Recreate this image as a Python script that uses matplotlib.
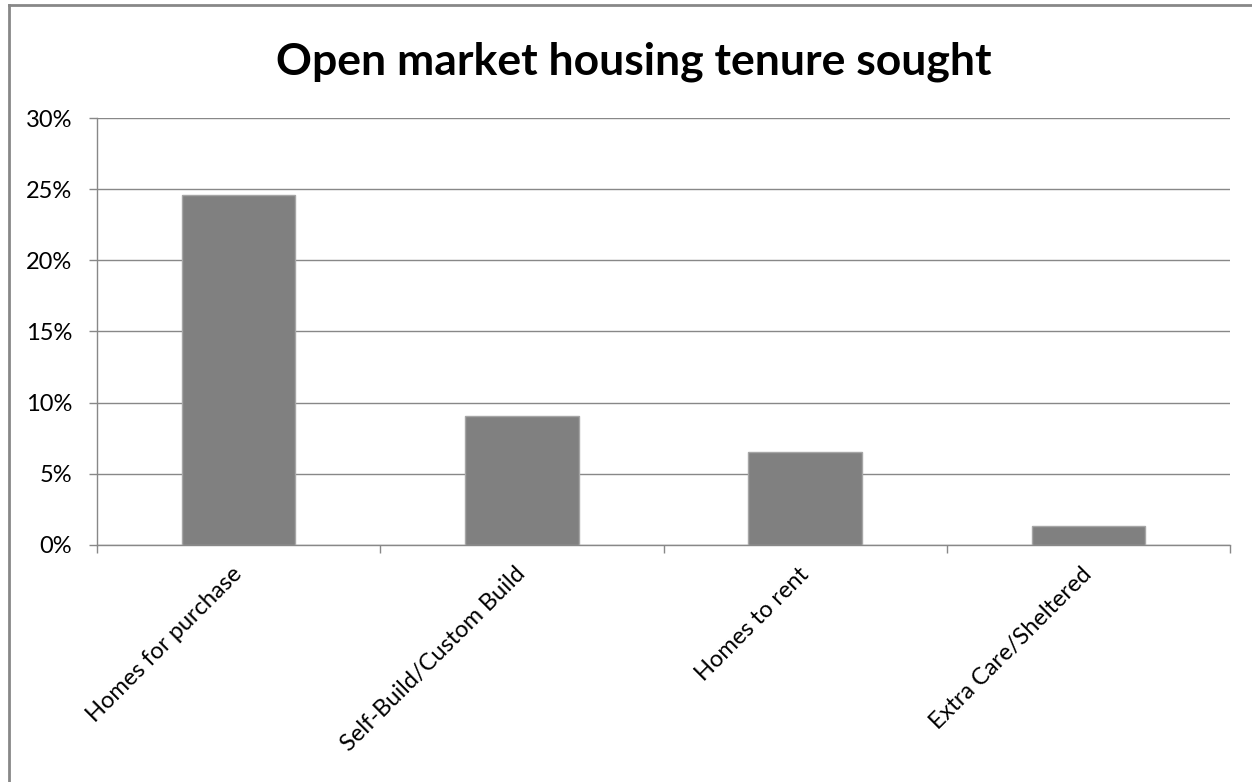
import matplotlib
matplotlib.use("Agg")
import matplotlib.pyplot as plt
from matplotlib.ticker import FuncFormatter, FixedLocator
from matplotlib.lines import Line2D

categories = ["Homes for purchase", "Self-Build/Custom Build", "Homes to rent", "Extra Care/Sheltered"]
values = [24.6, 9.05, 6.52, 1.28]
yticks = [0, 5, 10, 15, 20, 25, 30]
title = "Open market housing tenure sought"

plt.rcParams['font.family'] = ['Lato', 'DejaVu Sans']

fig = plt.figure(figsize=(12.52, 7.82), dpi=100)
ax = fig.add_axes([97/1252, 1-544.5/782, (1230-97)/1252, (544.5-118.5)/782])

x = list(range(len(categories)))
ax.bar(x, values, width=0.4, color="#808080", edgecolor="#a6a6a6", linewidth=1, zorder=3)

ax.set_xlim(-0.5, len(categories) - 0.5)
ax.set_ylim(0, 30)
ax.set_yticks(yticks)
ax.yaxis.set_major_formatter(FuncFormatter(lambda v, p: f"{int(v)}%"))
ax.yaxis.grid(True, color="#888888", linewidth=1.0, zorder=0)
ax.set_axisbelow(True)

for s in ["top", "right"]:
    ax.spines[s].set_visible(False)
for s in ["left", "bottom"]:
    ax.spines[s].set_color("#888888")
    ax.spines[s].set_linewidth(1.0)

ax.tick_params(axis="y", length=5.8, width=1, color="#888888", pad=12, labelsize=17, labelcolor="#000000")
ax.xaxis.set_major_locator(FixedLocator([-0.5, 0.5, 1.5, 2.5, 3.5]))
ax.xaxis.set_major_formatter(FuncFormatter(lambda v, p: ""))
ax.tick_params(axis="x", length=5.8, width=1, color="#888888")
ax.xaxis.set_minor_locator(FixedLocator(x))
ax.xaxis.set_minor_formatter(FuncFormatter(lambda v, p: categories[int(round(v))]))
ax.tick_params(axis="x", which="minor", length=0, pad=19, labelsize=17)
for lbl in ax.get_xticklabels(minor=True):
    lbl.set_rotation(45)
    lbl.set_ha("right")
    lbl.set_va("center")
    lbl.set_rotation_mode("anchor")

fig.text(634/1252, 1-62/782, title, ha="center", va="center", fontsize=32, fontweight="bold")

# chart border (left and top visible)
fig.add_artist(Line2D([9/1252, 9/1252], [0, 1-5/782], color="#888888", linewidth=2, transform=fig.transFigure))
fig.add_artist(Line2D([9/1252, 1], [1-5/782, 1-5/782], color="#888888", linewidth=2, transform=fig.transFigure))

fig.savefig("out.png", dpi=100, facecolor="white")
